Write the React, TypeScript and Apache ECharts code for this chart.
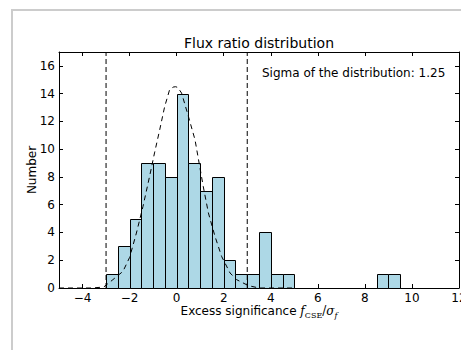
import React, { useEffect, useRef } from 'react';
import * as echarts from 'echarts';

// Histogram bins (left edges) and counts
const binStarts = [-3, -2.5, -2, -1.5, -1, -0.5, 0, 0.5, 1, 1.5, 2, 2.5, 3, 3.5, 4, 4.5, 8.5, 9];
const binCounts = [1, 3, 5, 9, 9, 8, 14, 9, 7, 8, 2, 1, 1, 4, 1, 1, 1, 1];
const BIN_WIDTH = 0.5;

// Dashed fitted curve
const curveX = [-5, -3.6, -3.1, -2.71, -2.28, -2.0, -1.71, -1.43, -1.15, -0.94, -0.72, -0.51, -0.3, -0.15, -0.05, 0.05, 0.21, 0.5, 0.78, 1.13, 1.35, 1.63, 1.91, 2.27, 2.55, 3.05, 3.5, 5];
const curveY = [0, 0, 0.07, 0.6, 1.2, 2.2, 3.96, 5.88, 8.04, 9.73, 11.4, 13.06, 14.28, 14.47, 14.5, 14.45, 14.04, 12.36, 10.68, 7.32, 5.4, 3.72, 2.28, 1.08, 0.6, 0.17, 0, 0];

// Vertical dashed cut lines
const cutLines = [-3, 3];

const xMin = -5;
const xMax = 12;
const yMin = 0;
const yMax = 17;
const xTicks = [-4, -2, 0, 2, 4, 6, 8, 10, 12];
const yTicks = [0, 2, 4, 6, 8, 10, 12, 14, 16];

const titleText = 'Flux ratio distribution';
const sigmaText = 'Sigma of the distribution: 1.25';
const yLabel = 'Number';

export default function App() {
  const ref = useRef<HTMLDivElement>(null);
  useEffect(() => {
    const chart = echarts.init(ref.current as HTMLDivElement, null, { renderer: 'svg' });
    const font = 'DejaVu Sans';
    const line = { show: true, onZero: false, lineStyle: { color: '#000', width: 1 } };
    const xAxisBase = {
      type: 'value',
      min: xMin,
      max: xMax,
      axisLine: line,
      splitLine: { show: false },
    };
    const yAxisBase = {
      type: 'value',
      min: yMin,
      max: yMax,
      axisLine: line,
      splitLine: { show: false },
    };
    const tickX = { show: true, inside: true, length: 4, customValues: xTicks, lineStyle: { color: '#000', width: 1 } };
    const tickY = { show: true, inside: true, length: 4, customValues: yTicks, lineStyle: { color: '#000', width: 1 } };

    chart.setOption({
      animation: false,
      backgroundColor: '#fff',
      grid: { left: 59, right: 2, top: 52, bottom: 62, containLabel: false, outerBoundsMode: 'none' },
      xAxis: [
        {
          ...xAxisBase,
          position: 'bottom',
          axisTick: tickX,
          axisLabel: { show: true, customValues: xTicks, margin: 4, color: '#000', fontFamily: font, fontSize: 12,
            formatter: (v: number) => (v < 0 ? '\u2212' + Math.abs(v) : String(v)) },
        },
        {
          ...xAxisBase,
          position: 'top',
          axisTick: tickX,
          axisLabel: { show: false },
        },
      ],
      yAxis: [
        {
          ...yAxisBase,
          position: 'left',
          axisTick: tickY,
          axisLabel: { show: true, customValues: yTicks, margin: 4, color: '#000', fontFamily: font, fontSize: 12 },
        },
        {
          ...yAxisBase,
          position: 'right',
          axisTick: tickY,
          axisLabel: { show: false },
        },
      ],
      series: [
        {
          type: 'custom',
          xAxisIndex: 0,
          yAxisIndex: 0,
          z: 2,
          renderItem: (params: any, api: any) => {
            const x0 = api.value(0);
            const h = api.value(1);
            const p0 = api.coord([x0, h]);
            const p1 = api.coord([x0 + BIN_WIDTH, 0]);
            return {
              type: 'rect',
              shape: { x: Math.round(p0[0]) + 0.5, y: Math.round(p0[1]) + 0.5, width: Math.round(p1[0]) - Math.round(p0[0]), height: Math.round(p1[1]) - Math.round(p0[1]) },
              style: { fill: '#add8e6', stroke: '#000', lineWidth: 1 },
            };
          },
          encode: { x: 0, y: 1 },
          data: binStarts.map((s, i) => [s, binCounts[i]]),
        },
        {
          type: 'line',
          z: 4,
          showSymbol: false,
          symbol: 'none',
          lineStyle: { color: '#000', width: 1, type: [5, 4] },
          data: curveX.map((x, i) => [x, curveY[i]]),
        },
        ...cutLines.map((c) => ({
          type: 'line',
          z: 4,
          showSymbol: false,
          symbol: 'none',
          lineStyle: { color: '#000', width: 1, type: [5, 3] },
          data: [[c, yMin], [c, yMax]],
        })),
      ],
      graphic: [
        {
          type: 'rect',
          z: -10,
          silent: true,
          shape: { x: 12, y: 10, width: 520, height: 420 },
          style: { fill: 'none', stroke: '#cccccc', lineWidth: 2 },
        },
        {
          type: 'text',
          x: 259,
          y: 43,
          style: { text: titleText, fontFamily: font, fontSize: 14, fill: '#000', align: 'center', verticalAlign: 'middle' },
        },
        {
          type: 'text',
          x: 262,
          y: 73,
          style: { text: sigmaText, fontFamily: font, fontSize: 12, fill: '#000', align: 'left', verticalAlign: 'middle' },
        },
        {
          type: 'text',
          x: 32,
          y: 170,
          rotation: Math.PI / 2,
          style: { text: yLabel, fontFamily: font, fontSize: 12, fill: '#000', align: 'center', verticalAlign: 'middle' },
        },
        {
          type: 'text',
          x: 259,
          y: 311,
          style: {
            text: '{a|Excess significance }{m|f}{s|CSE}{r|/}{m|\u03c3}{si|f}',
            align: 'center',
            verticalAlign: 'middle',
            fill: '#000',
            rich: {
              a: { fontFamily: font, fontSize: 12, lineHeight: 16, fill: '#000' },
              m: { fontFamily: 'DejaVu Serif', fontStyle: 'italic', fontSize: 12, lineHeight: 16, fill: '#000' },
              r: { fontFamily: 'DejaVu Serif', fontSize: 12, lineHeight: 16, fill: '#000' },
              s: { fontFamily: 'DejaVu Serif', fontSize: 8, lineHeight: 10, verticalAlign: 'bottom', fill: '#000' },
              si: { fontFamily: 'DejaVu Serif', fontStyle: 'italic', fontSize: 8, lineHeight: 10, verticalAlign: 'bottom', fill: '#000' },
            },
          },
        },
      ],
    });
    return () => chart.dispose();
  }, []);
  return (
    <div
      ref={ref}
      style={{ position: 'fixed', left: 0, top: 0, width: 461, height: 350, background: '#fff' }}
    />
  );
}
